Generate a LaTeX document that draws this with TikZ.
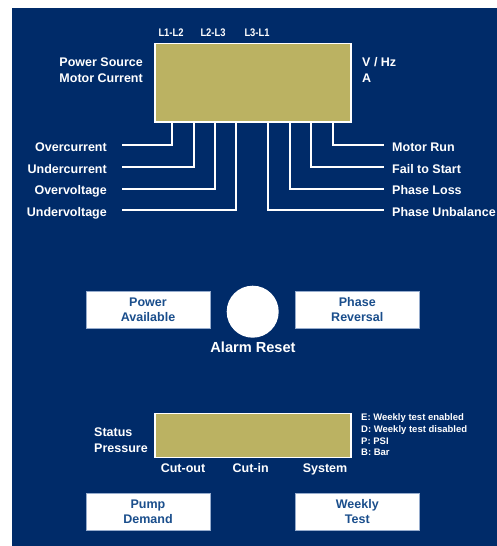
\documentclass[tikz,border=0pt]{standalone}
\usepackage{fontspec}
\setmainfont{Liberation Sans}
\newfontfamily\narrowfont[FakeStretch=0.85]{Liberation Sans}
\usetikzlibrary{calc}
\definecolor{navy}{RGB}{0,43,105}
\definecolor{olivefill}{RGB}{187,178,98}
\definecolor{btntext}{RGB}{26,78,140}
\definecolor{btnedge}{RGB}{150,172,205}
\newcommand\lblfont{\fontsize{12.5}{14.6}\selectfont\bfseries}
\newcommand\bigfont{\fontsize{14.6}{17}\selectfont\bfseries}
\newcommand\topfont{\narrowfont\fontsize{11}{13}\selectfont\bfseries}
\newcommand\notefont{\fontsize{9.5}{11}\selectfont\bfseries}
\begin{document}
\begin{tikzpicture}[x=1pt,y=-1pt,
  lbl/.style={font=\lblfont,text=white,inner sep=0pt},
  toplbl/.style={font=\topfont,text=white,inner sep=0pt,anchor=base},
  note/.style={font=\notefont,text=white,inner sep=0pt,anchor=base west},
  lead/.style={draw=white,line width=1.8pt},
  disp/.style={draw=white,line width=1.3pt,fill=olivefill,inner sep=0pt,minimum width=196pt},
  btn/.style={draw=btnedge,line width=0.8pt,fill=white,text=btntext,font=\lblfont,align=center,inner sep=0pt,minimum width=124pt,minimum height=37pt}]
\useasboundingbox (0,0) rectangle (497,546);
\fill[navy] (12,8) rectangle (497,546);
% top display
\node[disp,minimum height=78.5pt] (top) at (253,82.75) {};
\node[toplbl] (l12) at (171,36.7) {L1-L2};
\node[toplbl] (l23) at (213,36.7) {L2-L3};
\node[toplbl] (l31) at (257,36.7) {L3-L1};
\node[lbl,anchor=base east] (ps) at (143,66) {Power Source};
\node[lbl,anchor=base east] (mc) at (143,82.3) {Motor Current};
\node[lbl,anchor=base west] (vhz) at (362,66) {V / Hz};
\node[lbl,anchor=base west] (amp) at (362,82.3) {A};
% left labels
\node[lbl,anchor=base east] (oc) at (107,151.5) {Overcurrent};
\node[lbl,anchor=base east] (uc) at (107,173.3) {Undercurrent};
\node[lbl,anchor=base east] (ov) at (107,194.8) {Overvoltage};
\node[lbl,anchor=base east] (uv) at (107,216.3) {Undervoltage};
% right labels
\node[lbl,anchor=base west] (mr) at (392,151.5) {Motor Run};
\node[lbl,anchor=base west] (fs) at (392,173.3) {Fail to Start};
\node[lbl,anchor=base west] (pl) at (392,194.8) {Phase Loss};
\node[lbl,anchor=base west] (pu) at (392,216.3) {Phase Unbalance};
% lead ends
\coordinate (e1) at (122,145);
\coordinate (e2) at (122,167);
\coordinate (e3) at (122,189);
\coordinate (e4) at (122,210);
\coordinate (f1) at (384,145);
\coordinate (f2) at (384,167);
\coordinate (f3) at (384,189);
\coordinate (f4) at (384,210);
\draw[lead] ($(top.south west)+(18,0)$) |- (e1);
\draw[lead] ($(top.south west)+(40,0)$) |- (e2);
\draw[lead] ($(top.south west)+(61,0)$) |- (e3);
\draw[lead] ($(top.south west)+(82,0)$) |- (e4);
\draw[lead] ($(top.south west)+(179,0)$) |- (f1);
\draw[lead] ($(top.south west)+(157,0)$) |- (f2);
\draw[lead] ($(top.south west)+(136,0)$) |- (f3);
\draw[lead] ($(top.south west)+(114,0)$) |- (f4);
% buttons row 1
\node[btn] (pa) at (148,309.5) {Power\\Available};
\node[btn] (pr) at (357.3,309.5) {Phase\\Reversal};
\node[circle,fill=white,minimum size=52pt,inner sep=0pt] (alarm) at (252.7,311.7) {};
\node[lbl,font=\bigfont,anchor=base] (ar) at (253,352) {Alarm Reset};
% bottom display
\node[disp,minimum height=44pt] (bot) at (253,435.3) {};
\node[lbl,anchor=base west] (st) at (94,436) {Status};
\node[lbl,anchor=base west] (pre) at (94,452.3) {Pressure};
\node[lbl,anchor=base] (co) at (183,472.7) {Cut-out};
\node[lbl,anchor=base] (ci) at (250.7,472.7) {Cut-in};
\node[lbl,anchor=base] (sy) at (325,472.7) {System};
\node[note] (ne) at (361,420.7) {E: Weekly test enabled};
\node[note] (nd) at (361,432.5) {D: Weekly test disabled};
\node[note] (np) at (361,444.2) {P: PSI};
\node[note] (nb) at (361,455.6) {B: Bar};
% buttons row 2
\node[btn] (pd) at (148,511.7) {Pump\\Demand};
\node[btn] (wt) at (357.3,511.7) {Weekly\\Test};
\end{tikzpicture}
\end{document}
